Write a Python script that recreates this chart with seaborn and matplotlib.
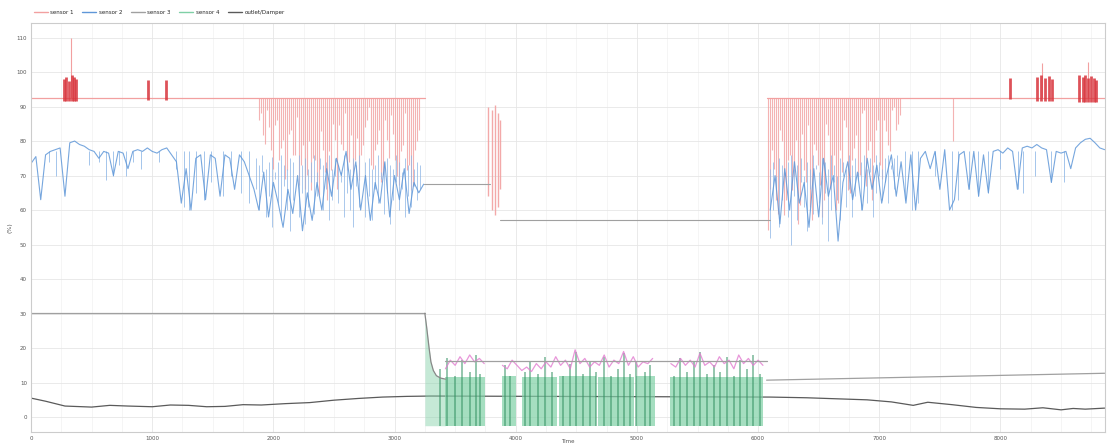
import matplotlib
matplotlib.use("Agg")
import matplotlib.pyplot as plt
from matplotlib.lines import Line2D
import seaborn as sns

# ------------------------------------------------------------------
# values (x = sample time, y = %)
# ------------------------------------------------------------------
series_names = ["sensor 1", "sensor 2", "sensor 3", "sensor 4", "outlet/Damper"]

# sensor 1 (red) sits at a flat level with dips and short bursts
red_level = 92.5
red_on_start = [0, 6070]
red_on_end = [3250, 8860]

red_dip_x = [1880, 1913, 1946, 1979, 2012, 2045, 2078, 2111, 2144, 2177, 2210, 2243, 2276, 2309,
             2342, 2375, 2408, 2441, 2474, 2507, 2540, 2573, 2606, 2639, 2672, 2705, 2738, 2771,
             2804, 2837, 2870, 2903, 2936, 2969, 3002, 3035, 3068, 3101, 3134, 3167, 3200,
             1896, 1929, 1962, 1995, 2028, 2061, 2094, 2127, 2160, 2193, 2226, 2259, 2292, 2325,
             2358, 2391, 2424, 2457, 2490, 2523, 2556, 2589, 2622, 2655, 2688, 2721, 2754, 2787,
             2820, 2853, 2886, 2919, 2952, 2985, 3018, 3051, 3084, 3117, 3150, 3183,
             6081, 6114, 6147, 6180, 6213, 6246, 6279, 6312, 6345, 6378, 6411, 6444, 6477, 6510,
             6543, 6576, 6609, 6642, 6675, 6708, 6741, 6774, 6807, 6840, 6873, 6906, 6939, 6972,
             7005, 7038, 7071, 7104, 7137, 7170,
             6097, 6130, 6163, 6196, 6229, 6262, 6295, 6328, 6361, 6394, 6427, 6460, 6493, 6526,
             6559, 6592, 6625, 6658, 6691, 6724, 6757, 6790, 6823, 6856, 6889, 6922, 6955, 6988,
             7021, 7054, 7087, 7120, 7153, 7610]
red_dip_y = [86.1, 81.7, 89.0, 77.4, 84.6, 74.5, 80.3, 71.6, 83.2, 75.9, 67.2, 78.8, 70.1, 65.8,
             74.5, 64.3, 77.4, 62.9, 71.6, 80.3, 84.6, 77.4, 71.6, 81.7, 74.5, 68.7, 78.8, 86.1,
             73.0, 77.4, 83.2, 70.1, 80.3, 87.5, 74.5, 67.2, 78.8, 71.6, 65.8, 77.4, 83.2,
             88, 79, 84, 72, 86, 78, 69, 82, 76, 87, 73, 66, 80, 75,
             68, 83, 71, 77, 85, 66, 79, 88, 74, 70, 81, 76, 84, 90,
             72, 79, 68, 86, 75, 82, 70, 77, 88, 73, 67, 80,
             54.2, 77.4, 62.9, 83.2, 58.6, 74.5, 65.8, 80.3, 61.4, 71.6, 84.6, 57.1, 77.4, 67.2,
             62.9, 81.7, 70.1, 60.0, 77.4, 86.1, 65.8, 74.5, 81.7, 70.1, 89.0, 77.4, 62.9, 83.2,
             73.0, 86.1, 78.8, 89.0, 83.2, 87.5,
             66, 72, 59, 80, 63, 76, 70, 56, 82, 68, 61, 79, 73, 58,
             85, 66, 76, 62, 71, 84, 65, 78, 70, 88, 67, 80, 74, 86,
             69, 83, 77, 90, 85, 80.0]

red_burst_x = [270, 290, 310, 335, 355, 375, 965, 1112,
               8075, 8305, 8338, 8371, 8404, 8429,
               8652, 8677, 8701, 8726, 8751, 8776, 8792]
red_burst_lo = [91.5, 91.5, 91.5, 91.5, 91.5, 91.5, 92.0, 92.0,
                92.2, 91.5, 91.5, 91.5, 91.5, 91.5,
                91.3, 91.3, 91.3, 91.3, 91.3, 91.3, 91.3]
red_burst_hi = [98.0, 98.5, 97.5, 99.0, 98.5, 98.0, 97.7, 97.8,
                98.3, 98.6, 99.0, 98.2, 98.8, 98.0,
                99.0, 98.5, 99.2, 98.4, 98.8, 98.2, 97.8]

red_thin_x = [330, 8340, 8720]
red_thin_hi = [110.0, 102.6, 102.8]

red_band_x = [3775, 3800, 3825, 3850, 3870]
red_band_lo = [64.0, 60.0, 58.6, 61.0, 66.0]
red_band_hi = [90.0, 89.0, 90.4, 88.0, 86.0]

# sensor 2 (blue), sampled every 40 time units
blue_left_x = list(range(0, 3241, 40))
blue_left_y = [73.5, 75.5, 63, 76, 77, 77.5, 78, 64, 79.5, 80,
               79, 78.5, 77.5, 77, 75, 77, 76.5, 70, 77, 76.5,
               72, 77, 77.5, 77, 78, 77, 76.5, 77.5, 78, 76,
               74, 62, 72, 60, 75, 76, 63, 76, 75, 64,
               76, 75, 66, 76, 74, 70, 66, 60, 71, 58,
               68, 62, 55, 66, 59, 70, 54, 65, 57, 68,
               60, 72, 64, 75, 70, 77, 66, 74, 60, 70,
               57, 68, 62, 74, 58, 70, 63, 72, 59, 68,
               65, 67.5]
blue_right_x = list(range(6100, 8861, 40))
blue_right_y = [60, 70, 56, 72, 60, 74, 62, 68, 55, 72,
                58, 75, 64, 70, 51, 68, 74, 63, 71, 60,
                75, 66, 73, 62, 70, 76, 64, 74, 62, 76,
                60, 75, 77, 72, 77, 66, 77.5, 60, 63, 76,
                77, 66, 77, 64, 76, 65, 77, 77.5, 76.5, 78,
                77, 66, 78, 78.5, 78, 79, 78, 77.5, 68, 77,
                76.5, 77, 72, 78, 79.5, 80.5, 80.8, 79.5, 78, 77.5]

# fine downward spikes of sensor 2
blue_spike_x = [148, 206, 478, 560, 618, 676, 725, 783, 840, 906, 1055, 1195, 1261, 1302,
                1360, 1426, 1483, 1582, 1648, 1730, 1796,
                7210, 7268, 7317, 7457, 7597, 7647, 7738, 7812, 7894, 7993, 8141, 8182,
                8281, 8413, 8528]
blue_spike_lo = [74, 70, 73, 74, 68.7, 70, 73, 70, 74, 72, 74, 72, 61, 60,
                 65, 63, 68, 64, 70, 65, 62,
                 63, 60, 62, 70, 60, 63, 66, 64, 65, 72, 66, 65,
                 70, 68, 68]
blue_spike_hi = 77.0

# dense stretches of sensor 2 (every 25 time units)
blue_dense_left_x = list(range(1860, 3211, 25))
blue_dense_left_lo = [66, 60, 71, 58, 64, 55, 69, 62, 57, 67,
                      60, 54, 63, 70, 58, 65, 56, 61, 68, 59,
                      64, 72, 60, 66, 57, 63, 70, 62, 68, 58,
                      65, 60, 55, 67, 61, 70, 58, 64, 57, 66,
                      62, 69, 59, 65, 56, 63, 68, 60, 66, 58,
                      64, 61, 67, 63, 66]
blue_dense_left_hi = [75, 73, 76, 72, 74, 75.5, 71, 74, 76, 73,
                      72, 75, 74, 70, 76, 73, 75, 72, 74, 76,
                      71, 75, 73, 74, 76, 72, 75, 73, 71, 76,
                      74, 72, 75, 73, 76, 70, 74, 75, 72, 73,
                      76, 71, 74, 75, 73, 72, 76, 74, 71, 75,
                      73, 76, 72, 74, 73]
blue_dense_right_x = list(range(6100, 7151, 25))
blue_dense_right_lo = [52, 60, 66, 55, 63, 70, 58, 50, 64, 57,
                       68, 61, 54, 66, 59, 72, 62, 56, 65, 51,
                       60, 68, 63, 57, 70, 61, 66, 58, 64, 69,
                       60, 67, 62, 71, 58, 65, 70, 63, 68, 62,
                       72, 66, 70]
blue_dense_right_hi = [72, 74, 70, 75, 73, 71, 74, 76, 72, 73,
                       75, 70, 74, 72, 76, 73, 71, 75, 74, 72,
                       76, 73, 70, 75, 74, 72, 76, 73, 75, 71,
                       74, 76, 72, 75, 73, 76, 74, 72, 75, 76,
                       73, 75, 76]

# held (gray) values while sensor 2 is off
hold_x = [[3240, 3790], [3870, 6100]]
hold_y = [[67.5, 67.5], [57.1, 57.1]]

# sensor 3 (gray set line)
sp_x = [[0, 3250], [3420, 6070], [6070, 8860]]
sp_y = [[30.1, 30.1], [16.2, 16.2], [10.7, 12.7]]
drop_x = [3250, 3265, 3285, 3300, 3320, 3345, 3380, 3420]
drop_y = [30.1, 26.0, 20.0, 16.0, 13.5, 12.0, 11.3, 11.0]

# sensor 4 (green) on-periods and strong stripes
green_floor = -2.5
green_start = [3420, 3890, 4055, 4360, 4680, 4990, 5275]
green_end = [3750, 4000, 4340, 4660, 4975, 5150, 6040]
green_top = [11.5, 12.0, 11.5, 11.8, 11.5, 11.8, 11.6]

stripe_x = [3378, 3436, 3502, 3560, 3626, 3675, 3708, 3914, 3955, 4079, 4120, 4186, 4244, 4301,
            4392, 4450, 4499, 4557, 4614, 4664, 4730, 4787, 4845, 4895, 4944, 4993, 5068, 5109,
            5307, 5356, 5414, 5471, 5521, 5578, 5636, 5686, 5743, 5801, 5850, 5908, 5958, 6015]
stripe_top = [14, 17, 12, 16.5, 13, 18, 12.5, 15, 12, 13, 16, 12.5, 17.5, 13,
              12, 15.5, 19, 12.5, 16, 13, 17.5, 12, 14, 18.5, 12.5, 16, 13, 15,
              12, 17, 13, 16, 19, 12.5, 15, 13, 17.5, 12, 16.5, 14, 18, 12.5]

# pink trace riding on top of the green periods
pink_x = [[3420, 3460, 3500, 3540, 3580, 3620, 3660, 3700, 3740],
          [3890, 3930, 3970, 4010, 4050, 4090, 4130, 4170, 4210, 4250, 4290, 4330, 4370, 4410,
           4450, 4490, 4530, 4570, 4610, 4650, 4690, 4730, 4770, 4810, 4850, 4890, 4930, 4970,
           5010, 5050, 5090, 5130],
          [5280, 5320, 5360, 5400, 5440, 5480, 5520, 5560, 5600, 5640, 5680, 5720, 5760, 5800,
           5840, 5880, 5920, 5960, 6000, 6040]]
pink_y = [[14, 16.5, 15, 17.5, 15.5, 18, 16, 17, 15.5],
          [15, 14, 16.5, 15, 13.5, 14.5, 13.2, 15.5, 14, 16, 14.5, 17.5, 15, 16.5,
           14, 19.5, 15.5, 17, 14.5, 16, 15, 18, 14.5, 16.5, 15.5, 19, 15, 17.5,
           14.5, 16, 15.5, 17],
          [15.5, 14.5, 17, 15, 16.5, 14.5, 18.5, 15, 16, 14.5, 17.5, 15.5, 16.5, 14,
           18, 15.5, 17, 15, 16.5, 15]]

# outlet (dark line near the bottom)
black_x = [0, 120, 280, 500, 650, 800, 1000, 1150, 1300, 1450, 1600, 1750, 1900, 2100, 2300,
           2500, 2700, 2900, 3100, 3300, 6100, 6400, 6650, 6900, 7100, 7280, 7400, 7600, 7800,
           8000, 8200, 8350, 8500, 8600, 8700, 8860]
black_y = [5.5, 4.6, 3.2, 2.9, 3.4, 3.2, 3.0, 3.5, 3.4, 3.0, 3.1, 3.6, 3.5, 3.9, 4.2,
           4.9, 5.4, 5.8, 6.0, 6.1, 5.8, 5.6, 5.3, 5.0, 4.4, 3.4, 4.3, 3.6, 2.8,
           2.4, 2.3, 2.7, 2.1, 2.5, 2.3, 2.6]

y_ticks = list(range(0, 111, 10))
x_ticks = list(range(0, 8001, 1000))

# ------------------------------------------------------------------
sns.set_style("whitegrid")
plt.rcParams["font.family"] = ["DejaVu Sans"]

c_red, c_red_dark = "#f2a0a0", "#d8343c"
c_blue, c_blue_light = "#5f97d8", "#8db6e6"
c_gray = "#a0a0a0"
c_green, c_green_dark = "#7fd0a6", "#2f8f5f"
c_pink = "#e27cd0"
c_black = "#5a5a5a"

fig = plt.figure(figsize=(11.08, 4.43), dpi=100)
ax = fig.add_axes([0.028, 0.025, 0.969, 0.923])

# outlet first, so the green periods cover it
sns.lineplot(x=black_x, y=black_y, ax=ax, color=c_black, linewidth=0.9, zorder=1)

# sensor 1 (red)
for s, e in zip(red_on_start, red_on_end):
    sns.lineplot(x=[s, e], y=[red_level, red_level], ax=ax, color=c_red, linewidth=0.9)
ax.vlines(red_dip_x, red_dip_y, red_level, color=c_red, linewidth=0.8, alpha=0.8)
ax.vlines(red_band_x, red_band_lo, red_band_hi, color=c_red, linewidth=1.0, alpha=0.9)
ax.vlines(red_thin_x, red_level, red_thin_hi, color=c_red, linewidth=0.8)
ax.vlines(red_burst_x, red_burst_lo, red_burst_hi, color=c_red_dark, linewidth=2.0, alpha=0.85)

# sensor 2 (blue) and its held values
ax.vlines(blue_dense_left_x, blue_dense_left_lo, blue_dense_left_hi,
          color=c_blue_light, linewidth=0.7, alpha=0.75)
ax.vlines(blue_dense_right_x, blue_dense_right_lo, blue_dense_right_hi,
          color=c_blue_light, linewidth=0.7, alpha=0.75)
ax.vlines(blue_spike_x, blue_spike_lo, blue_spike_hi, color=c_blue_light, linewidth=0.7, alpha=0.8)
sns.lineplot(x=blue_left_x, y=blue_left_y, ax=ax, color=c_blue, linewidth=0.8, alpha=0.85)
sns.lineplot(x=blue_right_x, y=blue_right_y, ax=ax, color=c_blue, linewidth=0.8, alpha=0.85)
for hx, hy in zip(hold_x, hold_y):
    sns.lineplot(x=hx, y=hy, ax=ax, color=c_gray, linewidth=0.8)

# sensor 4 (green)
for s, e, t in zip(green_start, green_end, green_top):
    ax.bar(s, t - green_floor, width=e - s, bottom=green_floor, align="edge",
           color=c_green, alpha=0.7, linewidth=0, zorder=2)
ax.fill_between(drop_x, green_floor, drop_y, color=c_green, alpha=0.45, linewidth=0, zorder=2)
ax.vlines(stripe_x, green_floor, stripe_top, color=c_green_dark, linewidth=1.3, alpha=0.55, zorder=2)

# pink trace
for px_, py_ in zip(pink_x, pink_y):
    sns.lineplot(x=px_, y=py_, ax=ax, color=c_pink, linewidth=0.9, alpha=0.8)

# sensor 3 (gray set line)
for sx, sy in zip(sp_x, sp_y):
    sns.lineplot(x=sx, y=sy, ax=ax, color=c_gray, linewidth=0.9)
sns.lineplot(x=drop_x, y=drop_y, ax=ax, color="#888888", linewidth=0.9)

ax.set_xlim(0, 8860)
ax.set_ylim(-4.3, 114.2)
ax.set_xticks(x_ticks)
ax.set_yticks(y_ticks)
ax.set_xticks(list(range(0, 8861, 250)), minor=True)
ax.grid(True, which="major", color="#e6e6e6", linewidth=0.6)
ax.grid(True, which="minor", axis="x", color="#f2f2f2", linewidth=0.5)
ax.tick_params(labelsize=4, colors="#555555", length=2, pad=1)
ax.tick_params(which="minor", length=0)
for sp in ax.spines.values():
    sp.set_color("#cccccc")
    sp.set_linewidth(0.8)

ax.set_ylabel("(%)", fontsize=4.5, color="#555555")
ax.yaxis.set_label_coords(-0.017, 0.5)
ax.set_xlabel("Time", fontsize=4, color="#555555")
ax.xaxis.set_label_coords(0.5, -0.017)

handles = [Line2D([0], [0], color=c, linewidth=1.0)
           for c in [c_red, c_blue, c_gray, c_green, c_black]]
fig.legend(handles, series_names, loc="center left", bbox_to_anchor=(0.026, 0.972),
           ncol=5, frameon=False, fontsize=4, handlelength=2.5, columnspacing=1.5,
           handletextpad=0.5)

fig.savefig("out.png", dpi=100)
